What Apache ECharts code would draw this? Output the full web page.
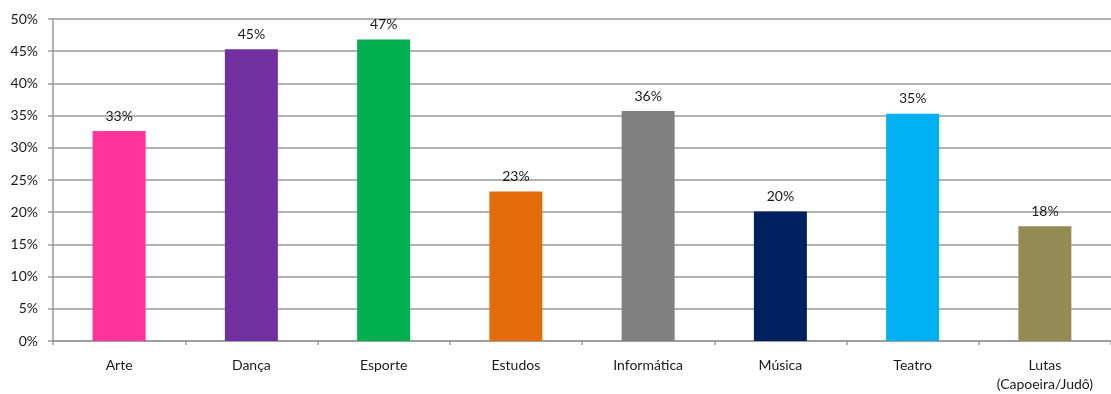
<!DOCTYPE html>
<html>
<head>
<meta charset="utf-8">
<script src="https://cdn.jsdelivr.net/npm/echarts@6/dist/echarts.min.js"></script>
<style>
  html, body { margin: 0; padding: 0; background: #fff; }
  #chart { width: 1111px; height: 394px; }
</style>
</head>
<body>
<div id="chart"></div>
<script>
var categories = ['Arte', 'Dança', 'Esporte', 'Estudos', 'Informática', 'Música', 'Teatro', 'Lutas\n(Capoeira/Judô)'];
var values = [32.6, 45.3, 46.8, 23.2, 35.7, 20.1, 35.3, 17.8];
var barColors = ['#FF3399', '#7030A0', '#00B050', '#E36C09', '#808080', '#002060', '#00B0F0', '#948A54'];

var myChart = echarts.init(document.getElementById('chart'));
var option = {
	animation: false,
	textStyle: { fontFamily: 'Lato, sans-serif' },
	grid: {
		left: 53,
		right: 0,
		top: 19,
		bottom: 49.5,
		containLabel: false
	},
	xAxis: {
		type: 'category',
		data: categories,
		axisLine: { lineStyle: { color: '#999', width: 1.5 } },
		axisTick: { show: true, length: 4, lineStyle: { color: '#999', width: 1.5 } },
		axisLabel: { color: '#1a1a1a', fontSize: 14, lineHeight: 19, margin: 15 }
	},
	yAxis: {
		type: 'value',
		min: 0,
		max: 50,
		interval: 5,
		axisLine: { show: true, lineStyle: { color: '#999', width: 1.5 } },
		axisTick: { show: true, length: 5, lineStyle: { color: '#999', width: 1.5 } },
		axisLabel: { color: '#1a1a1a', fontSize: 14, margin: 15, formatter: '{value}%' },
		splitLine: { lineStyle: { color: '#999', width: 1.5 } }
	},
	series: [{
		type: 'bar',
		barWidth: 53,
		data: values.map(function (v, i) {
			return { value: v, itemStyle: { color: barColors[i] } };
		}),
		label: {
			show: true,
			position: 'top',
			distance: 8,
			color: '#1a1a1a',
			fontSize: 14,
			formatter: function (p) { return Math.round(p.value) + '%'; }
		}
	}]
};
myChart.setOption(option);
</script>
</body>
</html>
